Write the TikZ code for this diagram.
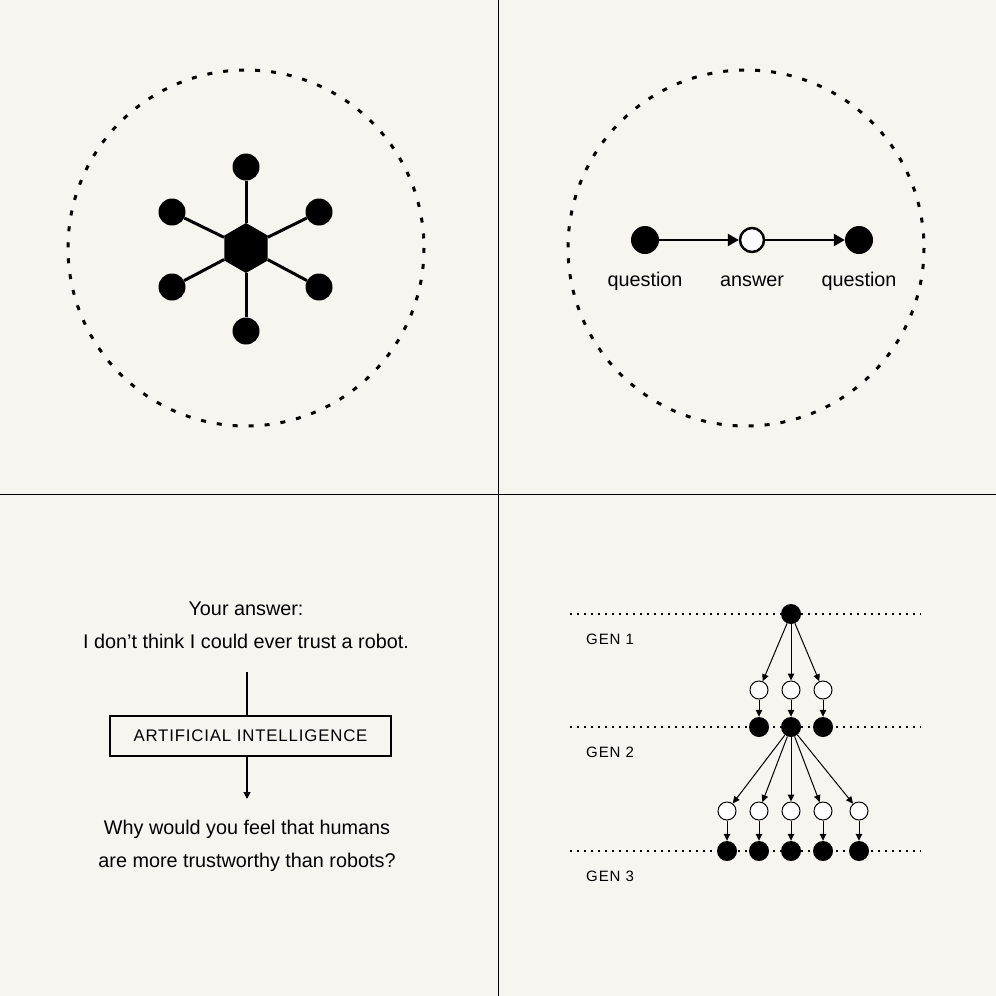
\documentclass[tikz,border=0pt]{standalone}
\usepackage{fontspec}
\setmainfont{Liberation Sans}
\usetikzlibrary{arrows.meta, shapes.geometric, positioning, calc}
\definecolor{paper}{HTML}{F6F5F0}
\newcommand{\bodyfont}{\fontsize{19.8}{33}\selectfont}
\newcommand{\capsfont}{\fontsize{16.8}{20}\selectfont\addfontfeature{LetterSpace=5}}
\newcommand{\genfont}{\fontsize{15}{18}\selectfont\addfontfeature{LetterSpace=6}}
\tikzset{
  ring/.style={line width=3pt, dash pattern=on 5pt off 11pt},
  bigdot/.style={circle, fill=black, inner sep=0pt, minimum size=27pt},
  hubnode/.style={regular polygon, regular polygon sides=6, shape border rotate=30,
    fill=black, inner sep=0pt, minimum size=50pt},
  spoke/.style={line width=3pt},
  qdot/.style={circle, fill=black, inner sep=0pt, minimum size=28pt},
  adot/.style={circle, draw=black, fill=white, line width=2.5pt, inner sep=0pt, minimum size=24pt},
  qarrow/.style={line width=2.5pt, -{Triangle[length=11pt, width=12pt]}},
  aibox/.style={rectangle, draw=black, line width=1.5pt, minimum width=281pt,
    minimum height=40pt, font=\capsfont},
  genline/.style={line width=1.3pt, dash pattern=on 2pt off 5pt},
  genlabel/.style={anchor=west, font=\genfont, inner sep=0pt},
  bdot/.style={circle, fill=black, inner sep=0pt, minimum size=20pt},
  wdot/.style={circle, draw=black, fill=white, line width=1pt, inner sep=0pt, minimum size=18pt},
  tarrow/.style={line width=1pt, -{Triangle[length=7pt, width=6.5pt]}}
}
\begin{document}
\begin{tikzpicture}[x=1pt, y=-1pt,
    every node/.style={font=\bodyfont}
    ]
    
    \fill[paper] (0,0) rectangle (996,996);
    \useasboundingbox (0,0) rectangle (996,996);
    \draw[line width=1pt] (498,0) -- (498,996);
    \draw[line width=1pt] (0,494) -- (996,494);
    
    % Network
    \draw[ring] (246,248) circle[radius=178];
    \node[hubnode] (hub) at (246,248) {};
    \foreach \nm/\px/\py in {t/246/167, ur/319/212, lr/319/287, b/246/331, ll/172/287, ul/172/212}
    {
      \node[bigdot] (spoke\nm) at (\px,\py) {};
      \draw[spoke] (hub) -- (spoke\nm);
    }
    
    % Question chain
    \draw[ring] (746,248) circle[radius=178];
    \node[qdot] (q1) at (645,240) {};
    \node[adot] (a1) at (752,240) {};
    \node[qdot] (q2) at (859,240) {};
    \draw[qarrow] (q1) -- (a1);
    \draw[qarrow] (a1) -- (q2);
    \node (q1lab) at (645,281) {question};
    \node (a1lab) at (752,281) {answer};
    \node (q2lab) at (859,281) {question};
    
    % Dialogue
    \node[align=center] (reply) at (246,625) {Your answer:\\I don’t think I could ever trust a robot.};
    \node[aibox] (ai) at (250.5,736) {ARTIFICIAL INTELLIGENCE};
    \coordinate (feed) at (247,672);
    \coordinate (outq) at (247,799);
    \draw[line width=1.5pt] (feed) -- (feed |- ai.north);
    \draw[line width=1.5pt, -{Triangle[length=7pt, width=7pt]}] (outq |- ai.south) -- (outq);
    \node[align=center] (why) at (247,846) {Why would you feel that humans\\are more trustworthy than robots?};
    
    % Generations
    \foreach \g/\y in {1/614, 2/727, 3/851}
    {
      \draw[genline] (570,\y) -- (921,\y);
      \node[genlabel] (gen\g) at (586,\y+25) {GEN \g};
    }
    \node[bdot] (root) at (791,614) {};
    \foreach \i/\x in {1/759, 2/791, 3/823}
    {
      \node[wdot] (w\i) at (\x,690) {};
      \node[bdot] (m\i) at (\x,727) {};
      \draw[tarrow] (root) -- (w\i);
      \draw[tarrow] (w\i) -- (m\i);
    }
    \foreach \i/\x in {1/727, 2/759, 3/791, 4/823, 5/859}
    {
      \node[wdot] (v\i) at (\x,811) {};
      \node[bdot] (n\i) at (\x,851) {};
      \draw[tarrow] (m2) -- (v\i);
      \draw[tarrow] (v\i) -- (n\i);
    }
    
\end{tikzpicture}
\end{document}
